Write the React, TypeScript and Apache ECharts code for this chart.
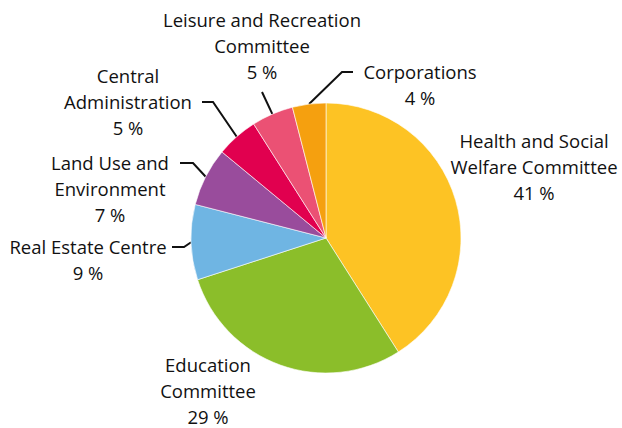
import React, { useEffect, useRef } from "react";
import * as echarts from "echarts";

const categories = [
  "Health and Social\nWelfare Committee",
  "Education\nCommittee",
  "Real Estate Centre",
  "Land Use and\nEnvironment",
  "Central\nAdministration",
  "Leisure and Recreation\nCommittee",
  "Corporations",
];
const shares = [41, 29, 9, 7, 5, 5, 4];
const colors = ["#FDC324", "#8BBE2A", "#6FB5E3", "#994C9C", "#E1004F", "#EB5174", "#F5A00F"];
const hasLeader = [false, false, true, true, true, true, true];

// label layout: label block centre and leader-line bend/end points (page px)
const labelPos: [number, number][] = [
  [534, 166],
  [208, 390],
  [88, 259],
  [110, 188],
  [128, 101],
  [262, 45],
  [420, 84],
];
const leaderPts: [number, number][][] = [
  [],
  [],
  [[184, 247], [172, 247]],
  [[193, 163], [180, 163]],
  [[213, 102], [202, 102]],
  [[262, 92], [262, 92]],
  [[342, 72], [353, 72]],
];

export default function App() {
  const ref = useRef<HTMLDivElement>(null);
  useEffect(() => {
    if (!ref.current) return;
    const chart = echarts.init(ref.current, undefined, { renderer: "svg" });
    chart.setOption({
      animation: false,
      backgroundColor: "#ffffff",
      textStyle: { fontFamily: "Open Sans" },
      series: [
        {
          type: "pie",
          center: [326, 238],
          radius: 135,
          startAngle: 90,
          clockwise: true,
          avoidLabelOverlap: false,
          emphasis: { disabled: true },
          itemStyle: { borderColor: "#ffffff", borderWidth: 0.6 },
          label: {
            show: true,
            position: "outside",
            formatter: "{b}\n{c} %",
            fontFamily: "Open Sans",
            fontSize: 18.5,
            lineHeight: 26,
            color: "#111111",
            align: "center",
          },
          labelLine: {
            show: true,
            length: 10,
            length2: 10,
            lineStyle: { color: "#111111", width: 2 },
          },
          labelLayout: (params: any) => {
            const i = params.dataIndex;
            const [x, y] = labelPos[i];
            const out: any = { x, y, align: "center", verticalAlign: "middle" };
            if (hasLeader[i] && params.labelLinePoints) {
              const p0 = params.labelLinePoints[0];
              out.labelLinePoints = [p0, leaderPts[i][0], leaderPts[i][1]];
            }
            return out;
          },
          data: categories.map((name, i) => ({
            name,
            value: shares[i],
            itemStyle: { color: colors[i] },
            labelLine: { show: hasLeader[i] },
          })),
        },
      ],
    });
    return () => chart.dispose();
  }, []);
  return (
    <div
      ref={ref}
      style={{ position: "fixed", left: 0, top: 0, width: 622, height: 428 }}
    />
  );
}
